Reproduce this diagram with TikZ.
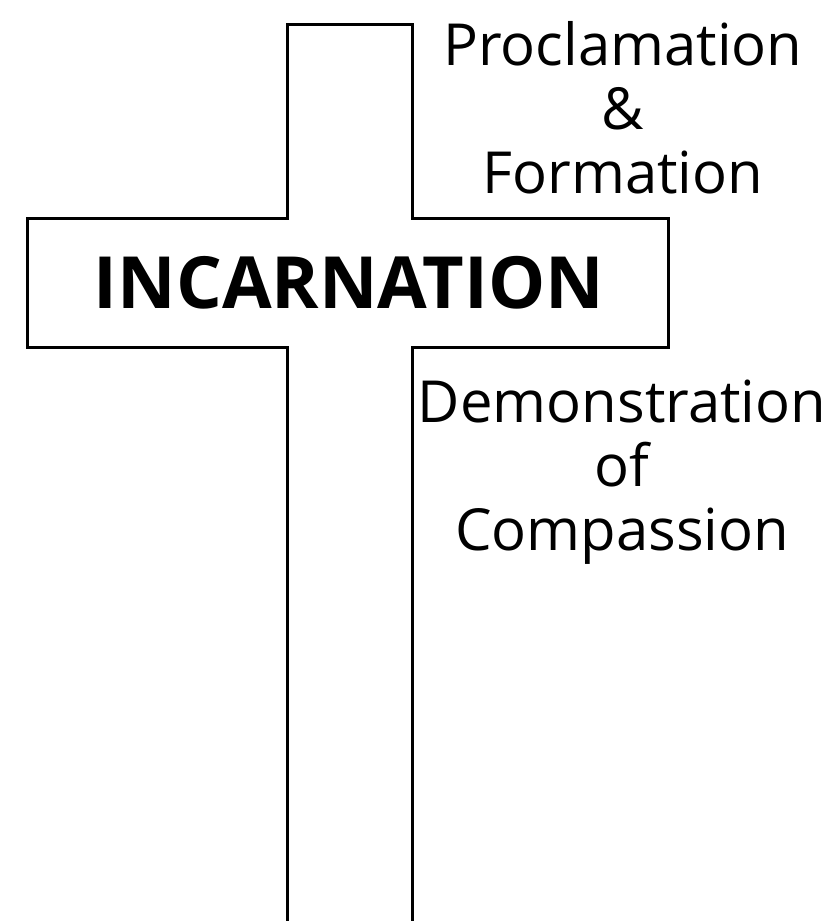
\documentclass[tikz,border=0pt]{standalone}
\usepackage{fontspec}
\setmainfont{Open Sans}
\usepackage{tikz}
\tikzstyle{crossline} = [draw=black, line width=3pt, line join=miter]
\tikzstyle{sidetext} = [inner sep=0pt, align=center, anchor=base, font=\fontsize{58}{64}\selectfont]
\tikzstyle{bartitle} = [inner sep=0pt, anchor=base, font=\bfseries\fontsize{72}{80}\selectfont]

\begin{document}
\begin{tikzpicture}[x=1pt, y=-1pt]
\useasboundingbox (0,0) rectangle (832,921);
\clip (0,0) rectangle (832,921);
% the cross, its foot runs off the page
\draw[crossline] (287,940) -- (287,347) -- (27,347) -- (27,218) -- (287,218) -- (287,24)
    -- (412,24) -- (412,218) -- (668,218) -- (668,347) -- (412,347) -- (412,940);
\node[bartitle] (incarnation) at (349,308) {INCARNATION};
% base of a multi-line node sits on its last line
\node[sidetext] (proclamation) at (623,193) {Proclamation\\\&\\Formation};
\node[sidetext] (demonstration) at (622,550) {Demonstration\\of\\Compassion};
\end{tikzpicture}
\end{document}
